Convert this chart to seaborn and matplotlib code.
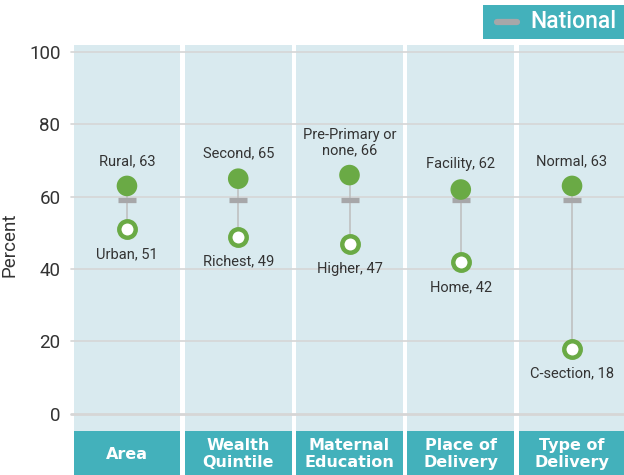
import matplotlib
matplotlib.use("Agg")
import matplotlib.pyplot as plt
from matplotlib.patches import Rectangle
import seaborn as sns
import pandas as pd

# Dimension groups and their high / low subgroup values (percent)
groups = ["Area", "Wealth\nQuintile", "Maternal\nEducation", "Place of\nDelivery", "Type of\nDelivery"]
high_labels = ["Rural", "Second", "Pre-Primary or\nnone", "Facility", "Normal"]
high_values = [63, 65, 66, 62, 63]
low_labels = ["Urban", "Richest", "Higher", "Home", "C-section"]
low_values = [51, 49, 47, 42, 18]
national = 59
yticks = [0, 20, 40, 60, 80, 100]

GREEN = "#6aaa45"
PANEL = "#d9eaef"
TEAL = "#43b1bb"
GRID = "#d6d6d6"
DASH = "#a7a7a9"
TXT = "#333333"

sns.set_theme(style="white")
plt.rcParams["font.family"] = ["Roboto", "DejaVu Sans"]

fig = plt.figure(figsize=(6.24, 4.75), dpi=100)
W, H = 624, 475
ax = fig.add_axes([73 / W, 0, 1 - 73 / W, 430 / H])

pos = list(range(len(groups)))
df_hi = pd.DataFrame({"x": pos, "y": high_values})
df_lo = pd.DataFrame({"x": pos, "y": low_values})
df_nat = pd.DataFrame({"x": pos, "y": [national] * len(groups)})

ymin, ymax = -17.0, 102.0
ax.set_ylim(ymin, ymax)
ax.set_xlim(-0.485, 4.467)
half = 0.48
band_bottom = -4.8

# panel backgrounds and category boxes
for i, g in enumerate(groups):
    ax.add_patch(Rectangle((i - half, band_bottom), 2 * half, ymax - band_bottom,
                           facecolor=PANEL, edgecolor="none", zorder=0))
    ax.add_patch(Rectangle((i - half, ymin), 2 * half, band_bottom - ymin,
                           facecolor=TEAL, edgecolor="none", zorder=0, clip_on=False))
    ax.text(i, (ymin + band_bottom) / 2 - 0.3, g, ha="center", va="center",
            color="white", fontsize=11.5, fontweight="bold",
            family=["Liberation Sans Narrow", "DejaVu Sans"], linespacing=1.1, zorder=3)

# gridlines
for t in yticks:
    ax.axhline(t, xmin=-0.004, color=GRID, lw=2.0 if t == 0 else 1.2, zorder=1, clip_on=False)

# connectors
ax.vlines(pos, low_values, high_values, color="#bdbdbd", lw=1.1, zorder=2)

# national dash
sns.scatterplot(data=df_nat, x="x", y="y", ax=ax, marker="_", s=150,
                color=DASH, linewidth=3.8, zorder=3, legend=False)
# subgroup points
sns.scatterplot(data=df_hi, x="x", y="y", ax=ax, s=220, color=GREEN,
                edgecolor="none", linewidth=0, zorder=4, legend=False)
sns.scatterplot(data=df_lo, x="x", y="y", ax=ax, s=140, color="white",
                edgecolor=GREEN, linewidth=3.2, zorder=4, legend=False)

for i in pos:
    ax.annotate(f"{high_labels[i]}, {high_values[i]}", (i, high_values[i]),
                xytext=(0, 13), textcoords="offset points", ha="center", va="bottom",
                fontsize=10.5, color=TXT, linespacing=1.05, zorder=5)
    ax.annotate(f"{low_labels[i]}, {low_values[i]}", (i, low_values[i]),
                xytext=(0, -13), textcoords="offset points", ha="center", va="top",
                fontsize=10.5, color=TXT, zorder=5)

ax.set_yticks(yticks)
ax.set_yticklabels([str(t) for t in yticks], fontsize=13.5, color=TXT)
ax.tick_params(axis="y", length=0, pad=9)
ax.set_xticks([])
ax.set_xlabel("")
ax.set_ylabel("Percent", fontsize=13.5, color=TXT)
ax.yaxis.set_label_coords((18 - 73) / 551, (475 - 245) / 430)
for s in ax.spines.values():
    s.set_visible(False)
ax.patch.set_alpha(0)

# legend box
fig.patches.append(Rectangle((483 / W, 1 - 39 / H), (W - 483) / W, 34 / H,
                             transform=fig.transFigure, facecolor=TEAL,
                             edgecolor="none", zorder=0))
fig.lines.append(plt.Line2D([497 / W, 517 / W], [1 - 22 / H, 1 - 22 / H],
                            transform=fig.transFigure, color=DASH, lw=4.5,
                            solid_capstyle="round"))
fig.text(530 / W, 1 - 22 / H, "National", ha="left", va="center",
         color="white", fontsize=16.5, fontweight="medium")

fig.savefig("out.png", dpi=100)
